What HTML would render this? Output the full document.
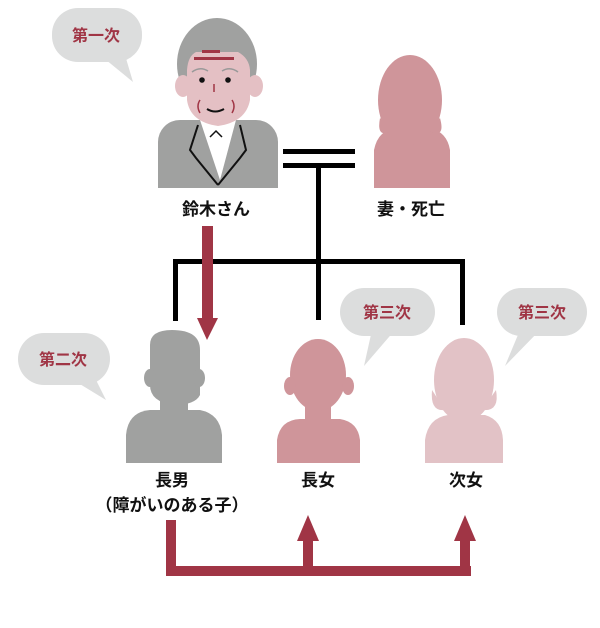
<!DOCTYPE html>
<html><head><meta charset="utf-8"><style>
html,body{margin:0;padding:0;background:#fff;}
svg{display:block;}
text{font-family:"Liberation Sans","Noto Sans CJK JP",sans-serif;}
</style></head><body>
<svg width="600" height="628" viewBox="0 0 600 628" xmlns="http://www.w3.org/2000/svg">
<g fill="#dcdddd">
  <rect x="52" y="8" width="90" height="54" rx="26"/>
  <polygon points="100,55 125,55 133,82"/>
  <rect x="18" y="333" width="92" height="52" rx="26"/>
  <polygon points="70,378 95,378 106,400"/>
  <rect x="340" y="288" width="95" height="48" rx="24"/>
  <polygon points="372,330 395,330 364,366"/>
  <rect x="497" y="288" width="90" height="48" rx="24"/>
  <polygon points="520,330 540,330 505,366"/>
</g>
<g fill="#a03545" font-size="16" font-weight="bold" text-anchor="middle">
  <text x="96" y="41">第一次</text>
  <text x="63" y="365">第二次</text>
  <text x="387" y="318">第三次</text>
  <text x="542" y="318">第三次</text>
</g>
<g fill="#000">
  <rect x="283" y="149" width="72" height="5"/>
  <rect x="283" y="163" width="72" height="5"/>
  <rect x="316" y="166" width="5" height="154"/>
  <rect x="173" y="259" width="292" height="5"/>
  <rect x="173" y="259" width="5" height="62"/>
  <rect x="460" y="259" width="5" height="66"/>
</g>
<!-- man -->
<rect x="158" y="120" width="120" height="68" rx="22" fill="#a0a1a0"/>
<rect x="158" y="150" width="120" height="38" fill="#a0a1a0"/>
<polygon points="200,120 236,120 220,180" fill="#fff"/>
<path d="M198,125 L190,150 L196,158 L218,185 M240,125 L246,150 L240,158 L218,185" stroke="#111" stroke-width="2" fill="none"/>
<path d="M210,137 L216,131 L222,137" stroke="#111" stroke-width="1.5" fill="none"/>
<ellipse cx="217" cy="64" rx="40" ry="46" fill="#a0a1a0"/>
<ellipse cx="183" cy="86" rx="8" ry="11" fill="#e4c0c4"/>
<ellipse cx="255" cy="86" rx="8" ry="11" fill="#e4c0c4"/>
<path d="M187,70 Q188,56 196,52 L238,52 Q249,58 250,70 L250,100 Q246,122 218,126 Q190,122 187,100 Z" fill="#e4c0c4"/>
<rect x="202" y="50" width="18" height="3" fill="#a03545"/>
<rect x="194" y="57" width="40" height="3" fill="#a03545"/>
<circle cx="202" cy="80" r="2.8" fill="#111"/>
<circle cx="228" cy="80" r="2.8" fill="#111"/>
<path d="M192,72 Q200,66 208,71 M222,71 Q230,66 238,72" stroke="#999" stroke-width="1.5" fill="none"/>
<path d="M214,84 L214,92" stroke="#a03545" stroke-width="1.5"/>
<path d="M200,100 Q196,106 200,113 M232,100 Q236,106 232,113" stroke="#a03545" stroke-width="1.5" fill="none"/>
<path d="M207,109 Q215,114 224,109" stroke="#111" stroke-width="2" fill="none"/>
<!-- wife -->
<g fill="#cf959a">
  <path d="M374,188 L374,150 Q378,130 396,128 L430,128 Q447,132 450,150 L450,188 Z"/>
  <ellipse cx="410" cy="100" rx="32" ry="45"/>
  <path d="M380,118 Q376,140 392,130 Z M440,118 Q446,140 428,130 Z"/>
</g>
<!-- son -->
<g fill="#a0a1a0">
  <path d="M126,463 L126,435 Q128,412 150,410 L200,410 Q220,414 222,435 L222,463 Z"/>
  <rect x="160" y="395" width="28" height="20"/>
  <path d="M150,345 Q150,330 172,330 Q200,330 200,350 L200,395 Q195,405 174,405 Q150,402 150,385 Z"/>
  <ellipse cx="150" cy="378" rx="6" ry="9"/>
  <ellipse cx="199" cy="378" rx="6" ry="9"/>
</g>
<!-- daughter 1 -->
<g fill="#cf959a">
  <path d="M277,463 L277,440 Q280,420 300,419 L340,419 Q358,422 360,440 L360,463 Z"/>
  <rect x="305" y="400" width="26" height="22"/>
  <ellipse cx="318" cy="375" rx="28" ry="36"/>
  <ellipse cx="290" cy="386" rx="6" ry="9"/>
  <ellipse cx="348" cy="386" rx="6" ry="9"/>
</g>
<!-- daughter 2 -->
<g fill="#e2c2c6">
  <path d="M425,463 L425,440 Q428,418 448,415 L485,415 Q502,420 503,440 L503,463 Z"/>
  <ellipse cx="464" cy="380" rx="30" ry="42"/>
  <path d="M432,390 Q430,412 445,410 Z M496,390 Q500,412 482,410 Z"/>
</g>
<g fill="#a03545">
  <rect x="202" y="226" width="11" height="96"/>
  <polygon points="197,318 218,318 207,340"/>
  <rect x="166" y="520" width="10" height="56"/>
  <rect x="166" y="566" width="305" height="10"/>
  <rect x="303" y="538" width="10" height="36"/>
  <polygon points="297,541 319,541 308,515"/>
  <rect x="460" y="538" width="10" height="36"/>
  <polygon points="454,541 476,541 465,515"/>
</g>
<g fill="#111" font-size="17" font-weight="bold" text-anchor="middle">
  <text x="216" y="215">鈴木さん</text>
  <text x="411" y="215">妻・死亡</text>
  <text x="172" y="486">長男</text>
  <text x="172" y="511">（障がいのある子）</text>
  <text x="318" y="486">長女</text>
  <text x="466" y="486">次女</text>
</g>
</svg>
</body></html>
